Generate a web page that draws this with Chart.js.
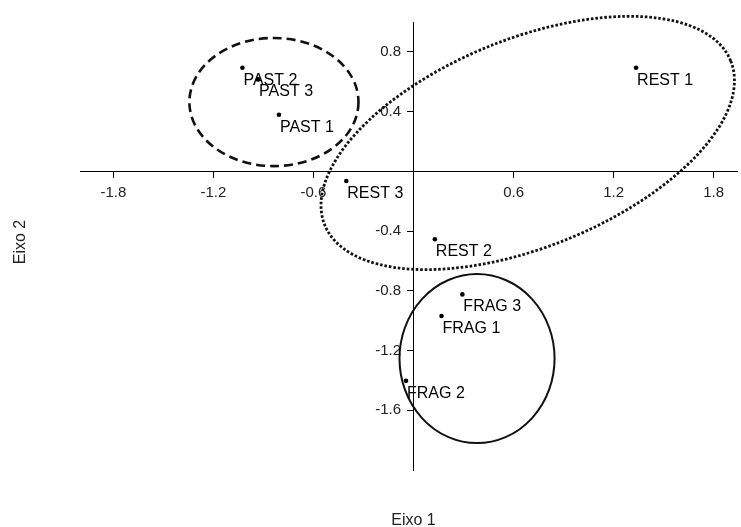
<!DOCTYPE html>
<html>
<head>
<meta charset="utf-8">
<script src="https://cdn.jsdelivr.net/npm/chart.js@4"></script>
<style>
  html, body { margin: 0; padding: 0; background: #fff; }
  #wrap { width: 741px; height: 527px; }
</style>
</head>
<body>
<div id="wrap"><canvas id="grafico"></canvas></div>
<script>
// dados (Eixo 1 x Eixo 2)
const rotulos = ['PAST 1', 'PAST 2', 'PAST 3', 'REST 1', 'REST 2', 'REST 3', 'FRAG 1', 'FRAG 2', 'FRAG 3'];
const eixo1 = [-0.807, -1.026, -0.932, 1.335, 0.128, -0.403, 0.168, -0.045, 0.293];
const eixo2 = [0.379, 0.694, 0.616, 0.694, -0.455, -0.065, -0.969, -1.403, -0.824];

const ticksX = [-1.8, -1.2, -0.6, 0.6, 1.2, 1.8];
const ticksY = [0.8, 0.4, -0.4, -0.8, -1.2, -1.6];

// elipses dos grupos (PAST, REST, FRAG) em unidades dos eixos
const elipseCx = [-0.837, 0.685, 0.381];
const elipseCy = [0.464, 0.19, -1.254];
const elipseRx = [0.507, 1.313, 0.465];
const elipseRy = [0.429, 0.697, 0.566];
const elipseRot = [0, -22, 0];
const elipseTraco = ['tracejado', 'pontilhado', 'continuo'];

const FONTE = '"Liberation Sans", Arial, sans-serif';

// desenha as elipses usando as escalas do grafico
const pluginElipses = {
    id: 'elipses',
    beforeDatasetsDraw(chart) {
        const { ctx, scales: { x, y } } = chart;
        const pxX = x.getPixelForValue(1) - x.getPixelForValue(0);
        const pxY = y.getPixelForValue(0) - y.getPixelForValue(1);
        ctx.save();
        ctx.strokeStyle = '#111';
        elipseCx.forEach((cx, i) => {
            ctx.beginPath();
            if (elipseTraco[i] === 'tracejado') {
                ctx.lineWidth = 2.6;
                ctx.setLineDash([9, 5]);
                ctx.lineCap = 'butt';
            } else if (elipseTraco[i] === 'pontilhado') {
                ctx.lineWidth = 2.8;
                ctx.setLineDash([2.6, 1.9]);
                ctx.lineCap = 'butt';
            } else {
                ctx.lineWidth = 2;
                ctx.setLineDash([]);
            }
            ctx.ellipse(
                x.getPixelForValue(cx), y.getPixelForValue(elipseCy[i]),
                elipseRx[i] * pxX, elipseRy[i] * pxY,
                elipseRot[i] * Math.PI / 180, 0, Math.PI * 2
            );
            ctx.stroke();
        });
        ctx.restore();
    }
};

// rotulos dos pontos e titulos dos eixos
const pluginTextos = {
    id: 'textos',
    afterDatasetsDraw(chart) {
        const { ctx, scales: { x, y } } = chart;
        ctx.save();
        ctx.fillStyle = '#000';
        ctx.font = '16px ' + FONTE;
        ctx.textAlign = 'left';
        ctx.textBaseline = 'alphabetic';
        rotulos.forEach((r, i) => {
            ctx.fillText(r, x.getPixelForValue(eixo1[i]) + 1, y.getPixelForValue(eixo2[i]) + 17);
        });

        ctx.fillStyle = '#222';
        ctx.font = '16px ' + FONTE;
        ctx.textAlign = 'center';
        ctx.fillText('Eixo 1', x.getPixelForValue(0), 525);
        ctx.translate(25, 242);
        ctx.rotate(-Math.PI / 2);
        ctx.fillText('Eixo 2', 0, 0);
        ctx.restore();
    }
};

const ctx = document.getElementById('grafico').getContext('2d');

new Chart(ctx, {
    type: 'scatter',
    data: {
        datasets: [{
            data: eixo1.map((v, i) => ({ x: v, y: eixo2[i] })),
            backgroundColor: '#000',
            borderColor: '#000',
            pointRadius: 2.3,
            pointBorderWidth: 0
        }]
    },
    options: {
        responsive: true,
        maintainAspectRatio: false,
        animation: false,
        layout: { padding: { left: 80, right: 0, top: 22, bottom: 57 } },
        scales: {
            x: {
                type: 'linear',
                min: -2.0,
                max: 1.94,
                position: { y: 0 },
                afterBuildTicks: (s) => { s.ticks = ticksX.map(v => ({ value: v })); },
                border: { display: true, color: '#000', width: 1 },
                grid: { display: true, drawOnChartArea: false, drawTicks: true, tickLength: 6, color: '#000' },
                ticks: {
                    color: '#222',
                    padding: 7,
                    font: { family: FONTE, size: 15 },
                    callback: (v) => String(v)
                }
            },
            y: {
                type: 'linear',
                min: -2.0,
                max: 1.0,
                position: { x: 0 },
                afterBuildTicks: (s) => { s.ticks = ticksY.map(v => ({ value: v })); },
                border: { display: true, color: '#000', width: 1 },
                grid: { display: true, drawOnChartArea: false, drawTicks: true, tickLength: 6, color: '#000' },
                ticks: {
                    color: '#222',
                    padding: 5,
                    font: { family: FONTE, size: 15 },
                    // espaços no fim afastam o texto da linha do eixo
                    callback: (v) => String(v) + '   '
                }
            }
        },
        plugins: {
            legend: { display: false },
            tooltip: { enabled: false }
        }
    },
    plugins: [pluginElipses, pluginTextos]
});
</script>
</body>
</html>
